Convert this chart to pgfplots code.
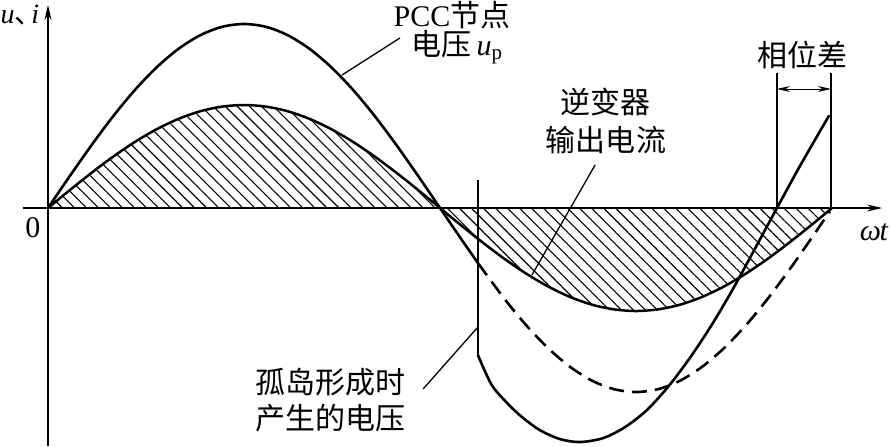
\documentclass[border=0pt]{standalone}
\usepackage{pgfplots}
\pgfplotsset{compat=1.18}
\usepackage{fontspec}
\setmainfont{Liberation Serif}
\newfontfamily\cjk{Noto Sans CJK SC}
\usetikzlibrary{arrows.meta,patterns.meta}
\tikzset{lbl/.style={font=\fontsize{30bp}{36bp}\selectfont, inner sep=0pt}}
\begin{document}
\begin{tikzpicture}
\begin{axis}[
  scale only axis, width=859bp, height=441bp,
  xmin=-11.48, xmax=382.96, ymin=-238, ymax=203,
  enlargelimits=false,
  axis lines=middle, xtick=\empty, ytick=\empty,
  axis line style={line width=1.5bp, -{Stealth[length=15bp,width=7bp]}},
  clip=false,
]
% hatched inverter current area
\addplot[draw=none, smooth, pattern={Lines[angle=-45,distance=8.5bp,line width=1.1bp]}] coordinates {
(0,0) (10,17.9) (20,35.2) (30,51.5) (40,66.2) (50,78.9) (60,89.2) (70,96.8) (80,101.4) (90,103)
(100,101.4) (110,96.8) (120,89.2) (130,78.9) (140,66.2) (150,51.5) (160,35.2) (170,17.9) (180,0)
(190,-17.9) (200,-35.2) (210,-51.5) (220,-66.2) (230,-78.9) (240,-89.2) (250,-96.8) (260,-101.4) (270,-103)
(280,-101.4) (290,-96.8) (300,-89.2) (310,-78.9) (320,-66.2) (330,-51.5) (340,-35.2) (350,-17.9) (360,0)
} \closedcycle;
% inverter current
\addplot[smooth, line width=2.5bp, line cap=round] coordinates {
(0,0) (10,17.9) (20,35.2) (30,51.5) (40,66.2) (50,78.9) (60,89.2) (70,96.8) (80,101.4) (90,103)
(100,101.4) (110,96.8) (120,89.2) (130,78.9) (140,66.2) (150,51.5) (160,35.2) (170,17.9) (180,0)
(190,-17.9) (200,-35.2) (210,-51.5) (220,-66.2) (230,-78.9) (240,-89.2) (250,-96.8) (260,-101.4) (270,-103)
(280,-101.4) (290,-96.8) (300,-89.2) (310,-78.9) (320,-66.2) (330,-51.5) (340,-35.2) (350,-17.9) (360,0)
};
% PCC voltage before islanding
\addplot[smooth, line width=2.6bp, line cap=round] coordinates {
(0,0) (10,31.9) (20,62.9) (30,92) (40,118.3) (50,140.9) (60,159.3) (70,172.9) (80,181.2) (90,184)
(100,181.2) (110,172.9) (120,159.3) (130,140.9) (140,118.3) (150,92) (160,62.9) (170,31.9) (180,0)
(190,-31.9) (197.4,-55)
};
% continuation (dashed)
\addplot[smooth, line width=2.6bp, dash pattern=on 15bp off 8bp] coordinates {
(197.4,-55) (210,-92) (220,-118.3) (230,-140.9) (240,-159.3) (250,-172.9) (260,-181.2) (270,-184)
(280,-181.2) (290,-172.9) (300,-159.3) (310,-140.9) (320,-118.3) (330,-92) (340,-62.9) (350,-31.9) (359,-3.2)
};
% islanding jump line
\addplot[line width=2bp] coordinates {(197.4,28) (197.4,-147)};
% voltage after islanding
\addplot[smooth, line width=2.6bp, line cap=round] coordinates {
(197.4,-147) (201,-165) (205,-181) (215,-204) (225,-221) (235,-231) (244.3,-234) (255,-230) (265,-219)
(275,-202) (285,-178) (295,-149) (305,-116) (315,-79) (325,-39) (334.7,0) (345,41) (358.5,92)
};
% phase difference markers
\addplot[line width=1.5bp] coordinates {(334.7,135) (334.7,0)};
\addplot[line width=1.5bp] coordinates {(359.5,135) (359.5,0)};
\draw[line width=1bp, {Stealth[length=13bp,width=6bp]}-{Stealth[length=13bp,width=6bp]}] (axis cs:334.7,119) -- (axis cs:359.5,119);
% pointer lines
\draw[line width=1.3bp] (axis cs:161.6,170) -- (axis cs:135,133);
\draw[line width=1.3bp] (axis cs:251.2,43) -- (axis cs:222.2,-67);
\draw[line width=1.3bp] (axis cs:172.2,-181) -- (axis cs:197.4,-119);
% labels
\node[lbl, anchor=base] at (axis cs:185.5,181) {PCC{\cjk 节点}};
\node[lbl, anchor=base] at (axis cs:187.8,152) {{\cjk 电压}\,\textit{u}\textsubscript{p}};
\node[lbl] at (axis cs:255.8,106) {\cjk 逆变器};
\node[lbl] at (axis cs:256.2,68) {\cjk 输出电流};
\node[lbl] at (axis cs:346.2,153) {\cjk 相位差};
\node[lbl] at (axis cs:129.5,-174) {\cjk 孤岛形成时};
\node[lbl] at (axis cs:129.5,-210) {\cjk 产生的电压};
\node[lbl, anchor=base east, font=\fontsize{28bp}{34bp}\selectfont] at (axis cs:-4,184) {\textit{u}{\cjk 、}\hspace{-0.4em}\textit{i}};
\node[lbl, anchor=base] at (axis cs:-6.9,-29) {0};
\node[lbl, anchor=base] at (axis cs:379.3,-32) {\textit{ω}\kern-0.05em\textit{t}};
\coordinate (BL) at (axis cs:-22.04,-238);
\coordinate (TR) at (axis cs:386.6,208);
\end{axis}
\pgfresetboundingbox
\path[use as bounding box] (BL) rectangle (TR);
\end{tikzpicture}
\end{document}
